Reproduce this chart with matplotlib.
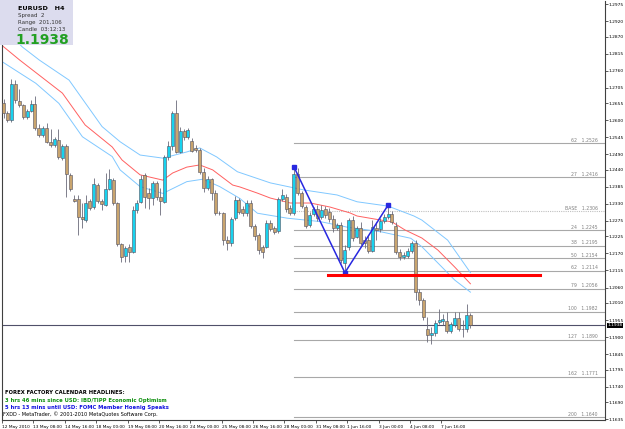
import numpy as np
import matplotlib.pyplot as plt
from matplotlib.transforms import blended_transform_factory

# EURUSD H4 candles, 12 May 2010 00:00 onwards
opens = [1.2656, 1.2623, 1.2601, 1.2718, 1.2662, 1.2649, 1.2610, 1.2631, 1.2653, 1.2574,
         1.2553, 1.2574, 1.2531, 1.2520, 1.2537, 1.2477, 1.2517, 1.2424, 1.2345, 1.2345,
         1.2289, 1.2278, 1.2339, 1.2319, 1.2392, 1.2339, 1.2328, 1.2379, 1.2407, 1.2332,
         1.2201, 1.2162, 1.2192, 1.2176, 1.2310, 1.2337, 1.2424, 1.2364, 1.2348, 1.2397,
         1.2353, 1.2337, 1.2481, 1.2517, 1.2623, 1.2499, 1.2567, 1.2545, 1.2534, 1.2510,
         1.2504, 1.2434, 1.2381, 1.2410, 1.2366, 1.2302, 1.2300, 1.2213, 1.2204, 1.2284,
         1.2343, 1.2313, 1.2300, 1.2334, 1.2259, 1.2230, 1.2191, 1.2192, 1.2269, 1.2251,
         1.2244, 1.2345, 1.2353, 1.2316, 1.2300, 1.2427, 1.2365, 1.2321, 1.2261, 1.2297,
         1.2313, 1.2289, 1.2313, 1.2305, 1.2280, 1.2251, 1.2262, 1.2138, 1.2192, 1.2278,
         1.2224, 1.2251, 1.2213, 1.2213, 1.2179, 1.2251, 1.2248, 1.2276, 1.2287, 1.2297,
         1.2259, 1.2176, 1.2160, 1.2162, 1.2179, 1.2203, 1.2046, 1.2020, 1.1925, 1.1908,
         1.1912, 1.1949, 1.1951, 1.1951, 1.1920, 1.1939, 1.1962, 1.1925, 1.1925, 1.1971]
highs = [1.2669, 1.2630, 1.2733, 1.2730, 1.2702, 1.2653, 1.2637, 1.2666, 1.2679, 1.2588,
         1.2582, 1.2591, 1.2571, 1.2546, 1.2571, 1.2524, 1.2524, 1.2430, 1.2359, 1.2359,
         1.2333, 1.2360, 1.2346, 1.2414, 1.2398, 1.2346, 1.2429, 1.2444, 1.2414, 1.2336,
         1.2204, 1.2194, 1.2201, 1.2323, 1.2343, 1.2424, 1.2430, 1.2381, 1.2404, 1.2404,
         1.2381, 1.2488, 1.2533, 1.2630, 1.2666, 1.2579, 1.2572, 1.2575, 1.2543, 1.2520,
         1.2511, 1.2446, 1.2420, 1.2414, 1.2375, 1.2307, 1.2304, 1.2226, 1.2288, 1.2356,
         1.2349, 1.2323, 1.2343, 1.2343, 1.2265, 1.2236, 1.2197, 1.2278, 1.2278, 1.2259,
         1.2352, 1.2378, 1.2362, 1.2327, 1.2450, 1.2446, 1.2372, 1.2327, 1.2304, 1.2320,
         1.2327, 1.2327, 1.2323, 1.2317, 1.2294, 1.2268, 1.2272, 1.2197, 1.2285, 1.2291,
         1.2259, 1.2272, 1.2226, 1.2226, 1.2278, 1.2272, 1.2285, 1.2297, 1.2326, 1.2307,
         1.2272, 1.2184, 1.2175, 1.2188, 1.2210, 1.2213, 1.2055, 1.2026, 1.1965, 1.1932,
         1.1955, 1.1990, 1.1974, 1.1981, 1.1949, 1.1981, 1.1981, 1.1955, 1.2007, 1.1978]
lows = [1.2608, 1.2595, 1.2595, 1.2656, 1.2643, 1.2604, 1.2604, 1.2627, 1.2569, 1.2546,
        1.2546, 1.2527, 1.2514, 1.2514, 1.2475, 1.2472, 1.2353, 1.2372, 1.2336, 1.2230,
        1.2251, 1.2272, 1.2310, 1.2314, 1.2333, 1.2310, 1.2323, 1.2375, 1.2327, 1.2194,
        1.2143, 1.2142, 1.2143, 1.2171, 1.2301, 1.2333, 1.2317, 1.2314, 1.2327, 1.2343,
        1.2294, 1.2333, 1.2472, 1.2504, 1.2495, 1.2495, 1.2537, 1.2540, 1.2498, 1.2498,
        1.2427, 1.2369, 1.2375, 1.2343, 1.2294, 1.2294, 1.2197, 1.2181, 1.2194, 1.2278,
        1.2297, 1.2291, 1.2291, 1.2252, 1.2213, 1.2168, 1.2155, 1.2188, 1.2243, 1.2233,
        1.2236, 1.2340, 1.2304, 1.2294, 1.2294, 1.2359, 1.2317, 1.2252, 1.2255, 1.2291,
        1.2275, 1.2281, 1.2285, 1.2272, 1.2239, 1.2246, 1.2139, 1.2108, 1.2181, 1.2210,
        1.2220, 1.2197, 1.2188, 1.2171, 1.2175, 1.2213, 1.2239, 1.2268, 1.2281, 1.2265,
        1.2168, 1.2149, 1.2152, 1.2155, 1.2171, 1.2020, 1.2003, 1.1955, 1.1884, 1.1877,
        1.1903, 1.1942, 1.1939, 1.1913, 1.1913, 1.1932, 1.1919, 1.1901, 1.1916, 1.1929]
closes = [1.2624, 1.2601, 1.2718, 1.2666, 1.2649, 1.2610, 1.2629, 1.2653, 1.2574, 1.2553,
          1.2574, 1.2531, 1.2520, 1.2539, 1.2481, 1.2517, 1.2427, 1.2377, 1.2340, 1.2289,
          1.2280, 1.2334, 1.2317, 1.2394, 1.2339, 1.2330, 1.2379, 1.2412, 1.2332, 1.2201,
          1.2160, 1.2187, 1.2176, 1.2310, 1.2334, 1.2410, 1.2351, 1.2348, 1.2397, 1.2353,
          1.2340, 1.2481, 1.2517, 1.2623, 1.2499, 1.2567, 1.2545, 1.2569, 1.2502, 1.2504,
          1.2434, 1.2381, 1.2410, 1.2366, 1.2300, 1.2300, 1.2213, 1.2204, 1.2280, 1.2343,
          1.2305, 1.2302, 1.2334, 1.2259, 1.2226, 1.2181, 1.2175, 1.2269, 1.2248, 1.2240,
          1.2345, 1.2359, 1.2313, 1.2300, 1.2427, 1.2365, 1.2323, 1.2259, 1.2294, 1.2313,
          1.2284, 1.2310, 1.2294, 1.2280, 1.2251, 1.2262, 1.2149, 1.2181, 1.2278, 1.2219,
          1.2251, 1.2205, 1.2203, 1.2179, 1.2256, 1.2246, 1.2276, 1.2287, 1.2297, 1.2273,
          1.2176, 1.2158, 1.2165, 1.2179, 1.2203, 1.2046, 1.2020, 1.1966, 1.1907, 1.1914,
          1.1946, 1.1955, 1.1957, 1.1920, 1.1942, 1.1960, 1.1925, 1.1927, 1.1971, 1.1938]

# moving average (red) and envelope bands (blue), sampled along the lines
ma_bars = [-0.3, 4.1, 15.0, 20.8, 27.7, 30.2, 34.8, 40.6, 43.1, 46.7, 50.0, 53.3, 58.4, 60.2,
           64.7, 68.0, 73.1, 78.2, 83.2, 88.3, 90.1, 94.7, 99.0, 102.3, 106.6, 110.7, 115.0, 119.0]
ma_vals = [1.2841, 1.2795, 1.2688, 1.2585, 1.2514, 1.2472, 1.2424, 1.2407, 1.2430, 1.2449,
           1.2456, 1.2440, 1.2391, 1.2385, 1.2365, 1.2349, 1.2333, 1.2333, 1.2320, 1.2301,
           1.2291, 1.2281, 1.2272, 1.2246, 1.2220, 1.2181, 1.2126, 1.2072]
up_bars = [-0.3, 4.8, 9.1, 16.7, 25.1, 29.7, 34.8, 40.6, 46.7, 50.0, 54.3, 59.6, 68.0, 76.6,
           85.0, 90.1, 98.0, 104.6, 106.6, 113.2, 119.0]
up_vals = [1.2902, 1.2837, 1.2795, 1.2730, 1.2580, 1.2531, 1.2488, 1.2478, 1.2498, 1.2511,
           1.2482, 1.2434, 1.2398, 1.2375, 1.2359, 1.2337, 1.2323, 1.2291, 1.2278, 1.2213, 1.2108]
dn_bars = [-0.3, 8.2, 14.1, 20.1, 27.7, 29.7, 34.8, 40.6, 46.7, 50.8, 55.1, 60.2, 64.7, 72.3,
           80.7, 87.6, 96.2, 103.8, 106.6, 115.0, 119.0]
dn_vals = [1.2789, 1.2720, 1.2655, 1.2547, 1.2483, 1.2440, 1.2386, 1.2364, 1.2402, 1.2410,
           1.2386, 1.2348, 1.2300, 1.2284, 1.2273, 1.2255, 1.2240, 1.2219, 1.2192, 1.2084, 1.2045]

# zigzag swing points
zz_bars = [74, 87, 98]
zz_vals = [1.2450, 1.2108, 1.2326]

# fibonacci expansion levels
fib_names = ["62", "27", "BASE", "24", "38", "50", "62", "79", "100", "127", "162", "200"]
fib_vals = [1.2526, 1.2416, 1.2306, 1.2245, 1.2195, 1.2154, 1.2114, 1.2056, 1.1982, 1.1890,
            1.1771, 1.1640]

support = 1.2100
last_price = 1.1938

price_ticks = [1.2975, 1.2920, 1.2870, 1.2815, 1.2760, 1.2705, 1.2655, 1.2600, 1.2545, 1.2490,
               1.2440, 1.2385, 1.2330, 1.2275, 1.2225, 1.2170, 1.2115, 1.2060, 1.2010, 1.1955,
               1.1900, 1.1845, 1.1795, 1.1740, 1.1690, 1.1635]
time_labels = ["12 May 2010", "13 May 08:00", "14 May 16:00", "18 May 00:00", "19 May 08:00",
               "20 May 16:00", "24 May 00:00", "25 May 08:00", "26 May 16:00", "28 May 00:00",
               "31 May 08:00", "1 Jun 16:00", "3 Jun 00:00", "4 Jun 08:00", "7 Jun 16:00"]

o = np.array(opens); h = np.array(highs); l = np.array(lows); c = np.array(closes)
x = np.arange(len(o))

fig = plt.figure(figsize=(6.25, 4.29), dpi=100)
ax = fig.add_axes([2/625, 9/429, 603/625, 419/429])
ax.set_xlim(0.25, 153.3)
ax.set_ylim(1.16319, 1.29857)

# indicator lines
ax.plot(ma_bars, ma_vals, color='#ff6060', lw=0.7, zorder=2)
ax.plot(up_bars, up_vals, color='#80c8ff', lw=0.7, zorder=2)
ax.plot(dn_bars, dn_vals, color='#80c8ff', lw=0.7, zorder=2)

# fib levels
ytrans = blended_transform_factory(ax.transAxes, ax.transData)
for name, v in zip(fib_names, fib_vals):
    ls = (0, (1, 1)) if name == "BASE" else '-'
    col = '#c0c0c0' if name == "BASE" else '#a8a8a8'
    ax.plot([74, 153.3], [v, v], color=col, lw=0.8, ls=ls, zorder=1)
    ax.text(0.988, v + 0.0002, f"{name}   {v:.4f}", transform=ytrans,
            ha='right', va='bottom', fontsize=3.3, color='#808080')

# current price line
ax.axhline(last_price, color='#50506a', lw=0.8, zorder=1)

# candles
ax.vlines(x, l, h, color='#6a6a7a', lw=0.6, zorder=3)
bull = c >= o
body_h = np.maximum(np.abs(c - o), 0.00008)
ax.bar(x[bull], body_h[bull], bottom=o[bull], width=0.75, color='#18d2ee',
       edgecolor='#505060', lw=0.4, zorder=4)
ax.bar(x[~bull], body_h[~bull], bottom=c[~bull], width=0.75, color='#c8a46e',
       edgecolor='#505060', lw=0.4, zorder=4)

# zigzag and support line
ax.plot(zz_bars, zz_vals, color='#2828e0', lw=1.1, marker='s', ms=2.5, zorder=5)
ax.plot([82.7, 136.8], [support, support], color='#ff0000', lw=2.2, zorder=5)

# axes styling
ax.spines['top'].set_visible(False)
for s in ['left', 'right', 'bottom']:
    ax.spines[s].set_color('#404040')
    ax.spines[s].set_linewidth(0.8)
ax.yaxis.tick_right()
ax.set_yticks(price_ticks)
ax.set_yticklabels([f"{p:.4f}" for p in price_ticks], fontsize=3.2)
ax.set_xticks([8 * k - 0.4 for k in range(len(time_labels))])
ax.set_xticklabels(time_labels, fontsize=3.1, ha='left')
ax.tick_params(axis='y', length=2, width=0.6, pad=0.8, color='#404040')
ax.tick_params(axis='x', length=2.5, width=0.6, pad=1, color='#404040')

ax.text(1.004, last_price, "1.1938", transform=ytrans,
        ha='left', va='center', fontsize=3.2, color='white',
        bbox=dict(facecolor='black', edgecolor='none', pad=0.5))

# info box
fig.patches.append(plt.Rectangle((0, 384/429), 73/625, 45/429, transform=fig.transFigure,
                                 facecolor='#dcdcee', edgecolor='none', zorder=10))
fig.text(18/625, 1 - 8/429, "EURUSD   H4", fontsize=4.6, fontweight='bold', va='center', zorder=11)
fig.text(18/625, 1 - 15.5/429, "Spread  2", fontsize=4, color='#333333', va='center', zorder=11)
fig.text(18/625, 1 - 22.5/429, "Range  201,106", fontsize=4, color='#333333', va='center', zorder=11)
fig.text(18/625, 1 - 29.5/429, "Candle  03:12:13", fontsize=4, color='#333333', va='center', zorder=11)
fig.text(15/625, 1 - 40/429, "1.1938", fontsize=10, fontweight='bold', color='#22a022',
         va='center', zorder=11)

# headlines
fig.text(5/625, 1 - 392/429, "FOREX FACTORY CALENDAR HEADLINES:", fontsize=3.8, fontweight='bold', va='center')
fig.text(5/625, 1 - 400.5/429, "3 hrs 46 mins since USD: IBD/TIPP Economic Optimism", fontsize=3.8,
         fontweight='bold', color='#109010', va='center')
fig.text(5/625, 1 - 407.5/429, "5 hrs 13 mins until USD: FOMC Member Hoenig Speaks", fontsize=3.8,
         fontweight='bold', color='#1010e0', va='center')
fig.text(3/625, 1 - 414.5/429, "FXDD - MetaTrader, \u00a9 2001-2010 MetaQuotes Software Corp.", fontsize=3.6,
         va='center')

fig.savefig('out.png', dpi=100)
